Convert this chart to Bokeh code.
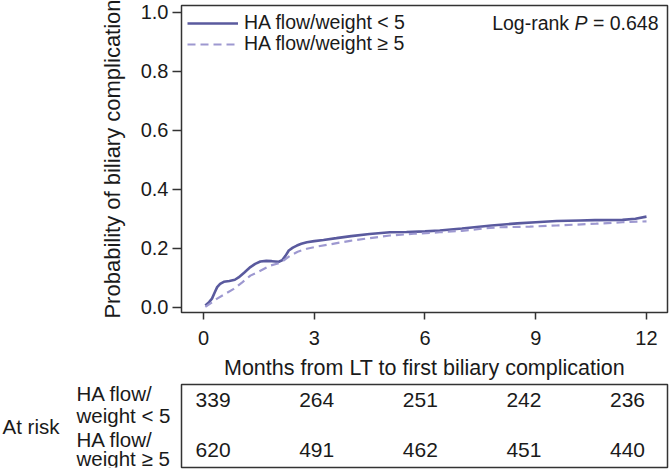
from bokeh.plotting import figure
from bokeh.models import Range1d, Legend, LegendItem, Label, FixedTicker, NumeralTickFormatter, ColumnDataSource
from bokeh.layouts import column, row
from bokeh.core.properties import value
from bokeh.embed import file_html
from bokeh.resources import INLINE

FONT = "Liberation Sans"
TXT = "#1a1a1a"

# Cumulative incidence curves (months, probability)
t_lo = [0.05, 0.15, 0.23, 0.30, 0.37, 0.45, 0.55, 0.70, 0.85, 0.95, 1.10, 1.27, 1.40, 1.54, 1.70,
        1.85, 2.04, 2.13, 2.22, 2.31, 2.42, 2.53, 2.65, 2.80, 3.00, 3.25, 3.60, 4.00, 4.50, 5.05,
        5.50, 6.00, 6.40, 7.00, 7.80, 8.50, 9.00, 9.56, 10.20, 10.60, 11.35, 11.70, 12.00]
p_lo = [0.007, 0.018, 0.030, 0.050, 0.069, 0.080, 0.087, 0.090, 0.094, 0.102, 0.118, 0.137, 0.148,
        0.156, 0.158, 0.157, 0.155, 0.160, 0.175, 0.193, 0.203, 0.210, 0.216, 0.221, 0.225, 0.229,
        0.235, 0.242, 0.249, 0.255, 0.256, 0.258, 0.261, 0.268, 0.278, 0.285, 0.289, 0.293, 0.295,
        0.296, 0.297, 0.301, 0.308]
t_hi = [0.05, 0.20, 0.37, 0.60, 0.82, 1.05, 1.27, 1.50, 1.81, 2.04, 2.20, 2.35, 2.55, 2.80, 3.10,
        3.43, 3.97, 4.50, 5.05, 5.70, 6.40, 7.00, 7.76, 8.03, 8.84, 9.56, 10.64, 11.35, 12.00]
p_hi = [0.002, 0.015, 0.030, 0.047, 0.063, 0.085, 0.108, 0.122, 0.142, 0.150, 0.162, 0.176, 0.189,
        0.199, 0.207, 0.214, 0.226, 0.235, 0.244, 0.250, 0.255, 0.260, 0.270, 0.272, 0.274, 0.278,
        0.284, 0.289, 0.292]

series_names = ["HA flow/weight < 5", "HA flow/weight \u2265 5"]
x_ticks = [0, 3, 6, 9, 12]
y_ticks = [0.0, 0.2, 0.4, 0.6, 0.8, 1.0]

# At-risk table
risk_times = ["0", "3", "6", "9", "12"]
risk_lo = [339, 264, 251, 242, 236]
risk_hi = [620, 491, 462, 451, 440]
risk_row_labels = ["HA flow/", "weight < 5", "HA flow/", "weight \u2265 5"]

C_LO = "#5a5a9e"
C_HI = "#9d98d0"

p = figure(width=669, height=392, x_range=Range1d(-0.596, 12.569), y_range=Range1d(-0.017, 1.0237),
           output_backend="svg", toolbar_location=None,
           min_border_left=181, min_border_right=2, min_border_top=5, min_border_bottom=80)
p.grid.visible = False
p.outline_line_color = "#333333"
p.outline_line_width = 1.5

r_lo = p.line(t_lo, p_lo, line_color=C_LO, line_width=2.6)
r_hi = p.line(t_hi, p_hi, line_color=C_HI, line_width=2.2, line_dash="8 5")

for ax in (p.xaxis[0], p.yaxis[0]):
    ax.axis_line_color = None
    ax.major_tick_line_color = "#333333"
    ax.major_tick_line_width = 1.5
    ax.minor_tick_line_color = None
    ax.major_tick_in = 0
    ax.major_label_text_font = FONT
    ax.major_label_text_font_size = "20px"
    ax.major_label_text_color = TXT
    ax.axis_label_text_font = FONT
    ax.axis_label_text_font_style = "normal"
    ax.axis_label_text_color = TXT

p.xaxis.ticker = FixedTicker(ticks=x_ticks)
p.xaxis.major_tick_out = 7
p.xaxis.major_label_standoff = 11
p.xaxis.axis_label = "Months from LT to first biliary complication"
p.xaxis.axis_label_text_font_size = "21.5px"
p.xaxis.axis_label_standoff = 8

p.yaxis.ticker = FixedTicker(ticks=y_ticks)
p.yaxis.formatter = NumeralTickFormatter(format="0.0")
p.yaxis.major_tick_out = 9
p.yaxis.major_label_standoff = 4
p.yaxis.axis_label = "Probability of biliary complication"
p.yaxis.axis_label_text_font_size = "22px"
p.yaxis.axis_label_standoff = 13

leg_kw = dict(margin=0, padding=0, spacing=0, glyph_width=51, glyph_height=20, label_height=20,
              label_standoff=6, label_text_font=FONT, label_text_font_size="19.5px",
              label_text_color=TXT, border_line_color=None, background_fill_alpha=0)
p.add_layout(Legend(items=[LegendItem(label=series_names[0], renderers=[r_lo])], location=(6, 278), **leg_kw))
p.add_layout(Legend(items=[LegendItem(label=series_names[1], renderers=[r_hi])], location=(6, 257), **leg_kw))

# Log-rank annotation (right aligned near top right)
lab_kw = dict(text_font=FONT, text_font_size="19.5px", text_color=TXT, text_baseline="middle", text_align="right")
p.add_layout(Label(x=12.325, y=0.966, text="= 0.648", **lab_kw))
p.add_layout(Label(x=10.402, y=0.966, text="P", text_font_style="italic", **lab_kw))
p.add_layout(Label(x=9.904, y=0.966, text="Log-rank", **lab_kw))

# Risk table: side labels
p3 = figure(width=180, height=97, x_range=Range1d(0, 180), y_range=Range1d(97, 0),
            output_backend="svg", toolbar_location=None,
            min_border_left=0, min_border_right=0, min_border_top=0, min_border_bottom=0)
p3.grid.visible = False
p3.axis.visible = False
p3.outline_line_color = None
p3.border_fill_color = None
p3.background_fill_color = None
side = ColumnDataSource(dict(x=[2, 76, 76, 76, 76], y=[49, 11, 36, 64, 86],
                             t=["At risk"] + risk_row_labels))
p3.text(x="x", y="y", text="t", source=side, text_align="left", text_baseline="middle",
        text_font=value(FONT), text_font_size="20.5px", text_color=TXT)

# Risk table: numbers
p2 = figure(width=489, height=97, x_range=Range1d(-0.305, 4.386), y_range=Range1d(-0.36, 1.30),
            output_backend="svg", toolbar_location=None,
            min_border_left=1, min_border_right=2, min_border_top=8, min_border_bottom=6)
p2.grid.visible = False
p2.axis.visible = False
p2.outline_line_color = "#333333"
p2.outline_line_width = 1.5
p2.border_fill_color = None

idx = list(range(len(risk_times)))
src = ColumnDataSource(dict(x=idx + idx, y=[1] * len(idx) + [0] * len(idx),
                            t=[str(v) for v in risk_lo] + [str(v) for v in risk_hi]))
p2.text(x="x", y="y", text="t", source=src, text_align="center", text_baseline="middle",
        text_font=value(FONT), text_font_size="21px", text_color=TXT)

table = row(p3, p2, spacing=0, styles={"margin-top": "-16px"})
layout = column(p, table, spacing=0)

open("out.html", "w").write(file_html(layout, INLINE))
